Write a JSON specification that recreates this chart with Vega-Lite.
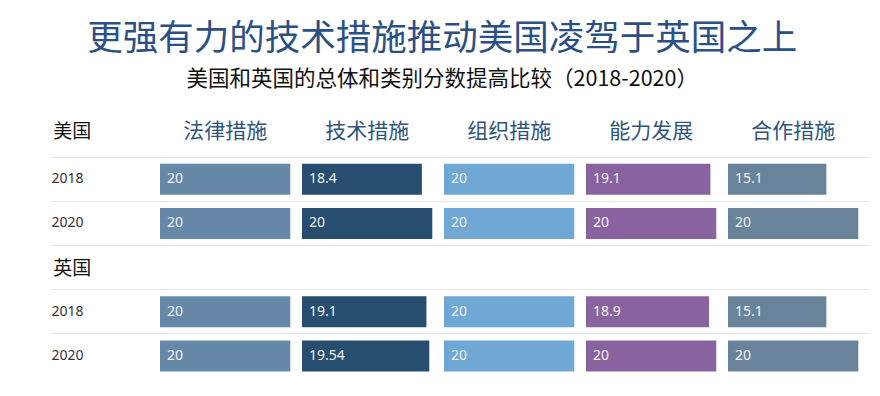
{
  "$schema": "https://vega.github.io/schema/vega-lite/v6.json",
  "padding": {"left": 50, "top": 22, "right": 5, "bottom": 5},
  "background": "#ffffff",
  "bounds": "flush",
  "title": {
    "text": "更强有力的技术措施推动美国凌驾于英国之上",
    "subtitle": "美国和英国的总体和类别分数提高比较（2018-2020）",
    "font": "Noto Sans CJK SC",
    "fontSize": 35.5,
    "fontWeight": "normal",
    "color": "#2b5085",
    "subtitleFont": "Noto Sans CJK SC",
    "subtitleFontSize": 21.5,
    "subtitleColor": "#111111",
    "subtitlePadding": 11,
    "anchor": "middle",
    "frame": "bounds",
    "dx": -18,
    "offset": 23
  },
  "data": {
    "values": [
      {"cat": "法律措施", "row": "US 2018", "value": 20},
      {"cat": "技术措施", "row": "US 2018", "value": 18.4},
      {"cat": "组织措施", "row": "US 2018", "value": 20},
      {"cat": "能力发展", "row": "US 2018", "value": 19.1},
      {"cat": "合作措施", "row": "US 2018", "value": 15.1},
      {"cat": "法律措施", "row": "US 2020", "value": 20},
      {"cat": "技术措施", "row": "US 2020", "value": 20},
      {"cat": "组织措施", "row": "US 2020", "value": 20},
      {"cat": "能力发展", "row": "US 2020", "value": 20},
      {"cat": "合作措施", "row": "US 2020", "value": 20},
      {"cat": "法律措施", "row": "UK 2018", "value": 20},
      {"cat": "技术措施", "row": "UK 2018", "value": 19.1},
      {"cat": "组织措施", "row": "UK 2018", "value": 20},
      {"cat": "能力发展", "row": "UK 2018", "value": 18.9},
      {"cat": "合作措施", "row": "UK 2018", "value": 15.1},
      {"cat": "法律措施", "row": "UK 2020", "value": 20},
      {"cat": "技术措施", "row": "UK 2020", "value": 19.54},
      {"cat": "组织措施", "row": "UK 2020", "value": 20},
      {"cat": "能力发展", "row": "UK 2020", "value": 20},
      {"cat": "合作措施", "row": "UK 2020", "value": 20}
    ]
  },
  "facet": {
    "column": {
      "field": "cat",
      "type": "nominal",
      "sort": ["法律措施", "技术措施", "组织措施", "能力发展", "合作措施"],
      "header": {"title": null, "labels": false}
    }
  },
  "spacing": 0,
  "spec": {
    "width": 142,
    "height": 265,
    "layer": [
      {
        "mark": {"type": "bar", "height": {"band": 0.7}},
        "encoding": {
          "x": {"field": "value", "type": "quantitative", "scale": {"domain": [0, 21.8], "nice": false}, "axis": null},
          "y": {
            "field": "row",
            "type": "nominal",
            "scale": {"domain": ["美国", "US 2018", "US 2020", "英国", "UK 2018", "UK 2020"], "paddingInner": 0, "paddingOuter": 0},
            "axis": {
              "title": null,
              "domain": false,
              "values": ["US 2018", "US 2020", "英国", "UK 2018", "UK 2020"],
              "bandPosition": 0,
              "ticks": true,
              "tickSize": 109,
              "tickDash": [1, 1],
              "tickColor": "#c4c4c4",
              "grid": true,
              "gridDash": [1, 1],
              "gridColor": "#c4c4c4",
              "labelAlign": "left",
              "labelBaseline": "middle",
              "labelPadding": 0,
              "labelOverlap": false,
              "labelExpr": "datum.value == '英国' ? '' : substring(datum.value, 3)",
              "labelFont": "Noto Sans",
              "labelFontSize": 14,
              "labelColor": "#333333"
            }
          },
          "color": {
            "field": "cat",
            "type": "nominal",
            "scale": {
              "domain": ["法律措施", "技术措施", "组织措施", "能力发展", "合作措施"],
              "range": ["#6689a9", "#274d6f", "#6fa8d4", "#8962a0", "#68839a"]
            },
            "legend": null
          }
        }
      },
      {
        "mark": {"type": "text", "align": "left", "baseline": "middle", "dx": 7, "font": "Noto Sans", "fontSize": 14, "color": "#f2f2f2"},
        "encoding": {
          "x": {"datum": 0},
          "y": {"field": "row", "type": "nominal"},
          "text": {"field": "value", "type": "quantitative", "format": "~g"}
        }
      },
      {
        "transform": [{"filter": "datum.row == 'US 2018'"}],
        "mark": {"type": "text", "align": "center", "baseline": "middle", "dy": -3, "font": "Noto Sans CJK SC", "fontSize": 21, "color": "#2f5480"},
        "encoding": {
          "x": {"datum": 10},
          "y": {"datum": "美国"},
          "text": {"field": "cat", "type": "nominal"}
        }
      },
      {
        "transform": [{"filter": "datum.row == 'US 2018' && datum.cat == '法律措施'"}],
        "mark": {"type": "text", "align": "left", "baseline": "middle", "dy": -3, "font": "Noto Sans CJK SC", "fontSize": 19, "color": "#111111", "text": "美国"},
        "encoding": {
          "x": {"datum": -16.4},
          "y": {"datum": "美国"}
        }
      },
      {
        "transform": [{"filter": "datum.row == 'UK 2018' && datum.cat == '法律措施'"}],
        "mark": {"type": "text", "align": "left", "baseline": "middle", "dy": 1, "font": "Noto Sans CJK SC", "fontSize": 19, "color": "#111111", "text": "英国"},
        "encoding": {
          "x": {"datum": -16.4},
          "y": {"datum": "英国"}
        }
      }
    ]
  },
  "config": {
    "view": {"stroke": null}
  }
}
